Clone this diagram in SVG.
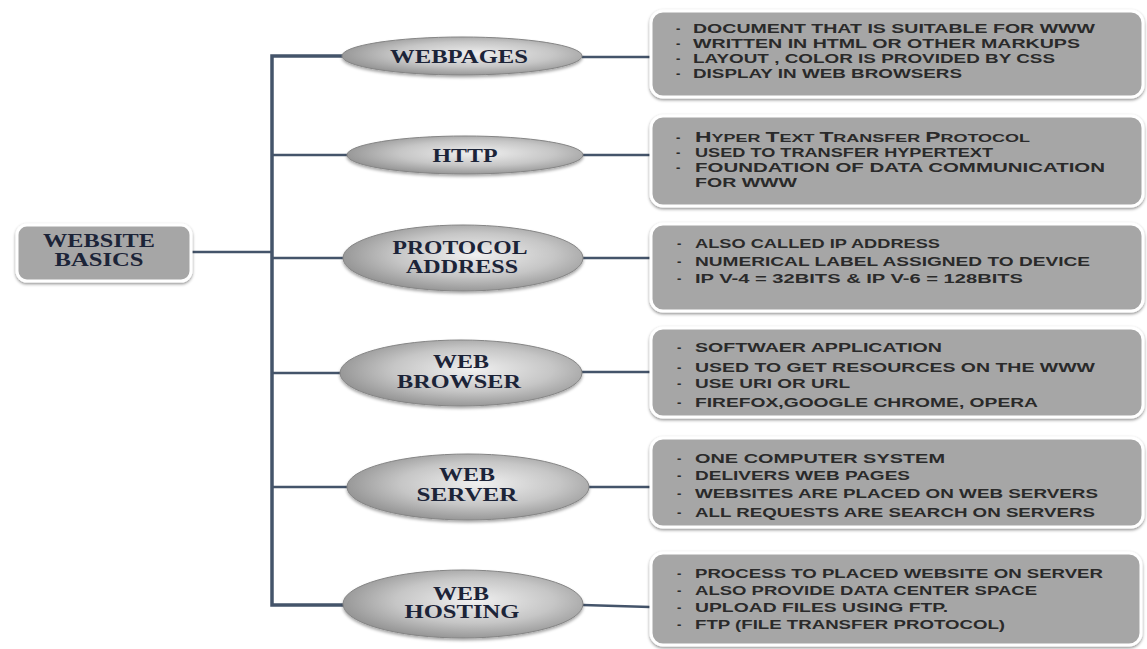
<svg xmlns="http://www.w3.org/2000/svg" width="1147" height="649" viewBox="0 0 1147 649">
<defs>
<radialGradient id="eg" cx="0.55" cy="0.45" r="0.6">
<stop offset="0" stop-color="#f0f0f0"/>
<stop offset="0.55" stop-color="#c6c6c6"/>
<stop offset="1" stop-color="#8e8e8e"/>
</radialGradient>
<filter id="sh" x="-10%" y="-20%" width="120%" height="150%">
<feDropShadow dx="0" dy="2" stdDeviation="1.5" flood-color="#000" flood-opacity="0.35"/>
</filter>
<filter id="bsh" x="-5%" y="-10%" width="110%" height="125%">
<feDropShadow dx="0" dy="1.5" stdDeviation="1.5" flood-color="#000" flood-opacity="0.45"/>
</filter>
</defs>
<style>
.conn{stroke:#44546a;stroke-width:2.5;fill:none}
.trunk{stroke:#44546a;stroke-width:3.5;fill:none}
.ell{fill:url(#eg);stroke:#858585;stroke-width:1;filter:url(#sh)}
.box{fill:#a6a6a6;stroke:#ffffff;stroke-width:3;filter:url(#bsh)}
.et{font-family:"Liberation Serif","Times New Roman",serif;font-size:18px;font-weight:bold;fill:#1c2438;text-anchor:middle}
.bt{font-family:"Liberation Sans",Arial,sans-serif;font-size:13px;font-weight:bold;fill:#2a2a2a}
</style>
<rect width="1147" height="649" fill="#ffffff"/>
<g id="connectors">
<polyline class="trunk" points="344,56 272,56 272,605 345,605"/>
<line class="conn" x1="192" y1="252" x2="272" y2="252"/>
<line class="conn" x1="272" y1="155" x2="348" y2="155"/>
<line class="conn" x1="272" y1="258" x2="344" y2="258"/>
<line class="conn" x1="272" y1="373" x2="341" y2="373"/>
<line class="conn" x1="272" y1="487" x2="348" y2="487"/>
<line class="conn" x1="582" y1="57" x2="650" y2="57"/>
<line class="conn" x1="583" y1="155" x2="650" y2="155"/>
<line class="conn" x1="583" y1="258" x2="650" y2="258"/>
<line class="conn" x1="582" y1="372" x2="650" y2="372"/>
<line class="conn" x1="589" y1="487" x2="650" y2="487"/>
<line class="conn" x1="583" y1="605" x2="650" y2="607"/>
</g>
<g id="website-basics">
<rect class="box" x="17" y="225" width="174" height="56" rx="10"/>
<text class="et" x="99" y="247" textLength="112" lengthAdjust="spacingAndGlyphs">WEBSITE</text>
<text class="et" x="99" y="266" textLength="89" lengthAdjust="spacingAndGlyphs">BASICS</text>
</g>
<g id="webpages">
<ellipse class="ell" cx="462" cy="56" rx="120" ry="19"/>
<text class="et" x="459" y="63" textLength="138" lengthAdjust="spacingAndGlyphs">WEBPAGES</text>
</g>
<g id="http">
<ellipse class="ell" cx="465" cy="155" rx="118" ry="19"/>
<text class="et" x="465" y="162" textLength="65" lengthAdjust="spacingAndGlyphs">HTTP</text>
</g>
<g id="protocol-address">
<ellipse class="ell" cx="463" cy="258" rx="120" ry="33"/>
<text class="et" x="460" y="254" textLength="135" lengthAdjust="spacingAndGlyphs">PROTOCOL</text>
<text class="et" x="462" y="273" textLength="112" lengthAdjust="spacingAndGlyphs">ADDRESS</text>
</g>
<g id="web-browser">
<ellipse class="ell" cx="461" cy="373" rx="121" ry="33"/>
<text class="et" x="461" y="368" textLength="56" lengthAdjust="spacingAndGlyphs">WEB</text>
<text class="et" x="459" y="388" textLength="124" lengthAdjust="spacingAndGlyphs">BROWSER</text>
</g>
<g id="web-server">
<ellipse class="ell" cx="468" cy="487" rx="121" ry="33"/>
<text class="et" x="467" y="481" textLength="56" lengthAdjust="spacingAndGlyphs">WEB</text>
<text class="et" x="467" y="501" textLength="101" lengthAdjust="spacingAndGlyphs">SERVER</text>
</g>
<g id="web-hosting">
<ellipse class="ell" cx="463" cy="604" rx="120" ry="34"/>
<text class="et" x="461" y="600" textLength="56" lengthAdjust="spacingAndGlyphs">WEB</text>
<text class="et" x="462" y="618" textLength="115" lengthAdjust="spacingAndGlyphs">HOSTING</text>
</g>
<g id="webpages-info">
<rect class="box" x="651" y="11" width="492" height="86" rx="12"/>
<text class="bt" x="676" y="33">-</text><text class="bt" x="693" y="33" textLength="402" lengthAdjust="spacingAndGlyphs">DOCUMENT THAT IS SUITABLE FOR WWW</text>
<text class="bt" x="676" y="48">-</text><text class="bt" x="693" y="48" textLength="387" lengthAdjust="spacingAndGlyphs">WRITTEN IN HTML OR OTHER MARKUPS</text>
<text class="bt" x="676" y="63">-</text><text class="bt" x="693" y="63" textLength="362" lengthAdjust="spacingAndGlyphs">LAYOUT , COLOR IS PROVIDED BY CSS</text>
<text class="bt" x="676" y="78">-</text><text class="bt" x="693" y="78" textLength="269" lengthAdjust="spacingAndGlyphs">DISPLAY IN WEB BROWSERS</text>
</g>
<g id="http-info">
<rect class="box" x="651" y="116" width="492" height="90" rx="12"/>
<text class="bt" x="676" y="142">-</text><text class="bt" x="695" y="142" textLength="335" lengthAdjust="spacingAndGlyphs"><tspan font-size="14">H</tspan><tspan font-size="11">YPER </tspan><tspan font-size="14">T</tspan><tspan font-size="11">EXT </tspan><tspan font-size="14">T</tspan><tspan font-size="11">RANSFER </tspan><tspan font-size="14">P</tspan><tspan font-size="11">ROTOCOL</tspan></text>
<text class="bt" x="676" y="157">-</text><text class="bt" x="695" y="157" textLength="298" lengthAdjust="spacingAndGlyphs">USED TO TRANSFER HYPERTEXT</text>
<text class="bt" x="676" y="172">-</text><text class="bt" x="695" y="172" textLength="410" lengthAdjust="spacingAndGlyphs">FOUNDATION OF DATA COMMUNICATION</text>
<text class="bt" x="695" y="187" textLength="102" lengthAdjust="spacingAndGlyphs">FOR WWW</text>
</g>
<g id="protocol-info">
<rect class="box" x="651" y="224" width="492" height="87" rx="12"/>
<text class="bt" x="677" y="248">-</text><text class="bt" x="695" y="248" textLength="245" lengthAdjust="spacingAndGlyphs">ALSO CALLED IP ADDRESS</text>
<text class="bt" x="677" y="266">-</text><text class="bt" x="695" y="266" textLength="395" lengthAdjust="spacingAndGlyphs">NUMERICAL  LABEL ASSIGNED TO DEVICE</text>
<text class="bt" x="677" y="283">-</text><text class="bt" x="695" y="283" textLength="328" lengthAdjust="spacingAndGlyphs">IP V-4 = 32BITS &amp; IP V-6 = 128BITS</text>
</g>
<g id="browser-info">
<rect class="box" x="651" y="328" width="492" height="89" rx="12"/>
<text class="bt" x="677" y="352">-</text><text class="bt" x="695" y="352" textLength="247" lengthAdjust="spacingAndGlyphs">SOFTWAER APPLICATION</text>
<text class="bt" x="677" y="372">-</text><text class="bt" x="695" y="372" textLength="400" lengthAdjust="spacingAndGlyphs">USED TO GET RESOURCES  ON THE WWW</text>
<text class="bt" x="677" y="388">-</text><text class="bt" x="695" y="388" textLength="155" lengthAdjust="spacingAndGlyphs">USE URI  OR URL</text>
<text class="bt" x="677" y="407">-</text><text class="bt" x="695" y="407" textLength="343" lengthAdjust="spacingAndGlyphs">FIREFOX,GOOGLE CHROME, OPERA</text>
</g>
<g id="server-info">
<rect class="box" x="651" y="438" width="492" height="89" rx="12"/>
<text class="bt" x="677" y="463">-</text><text class="bt" x="695" y="463" textLength="250" lengthAdjust="spacingAndGlyphs">ONE COMPUTER  SYSTEM</text>
<text class="bt" x="677" y="480">-</text><text class="bt" x="695" y="480" textLength="215" lengthAdjust="spacingAndGlyphs">DELIVERS WEB PAGES</text>
<text class="bt" x="677" y="498">-</text><text class="bt" x="695" y="498" textLength="403" lengthAdjust="spacingAndGlyphs">WEBSITES ARE PLACED ON WEB SERVERS</text>
<text class="bt" x="677" y="517">-</text><text class="bt" x="695" y="517" textLength="400" lengthAdjust="spacingAndGlyphs">ALL REQUESTS ARE SEARCH ON SERVERS</text>
</g>
<g id="hosting-info">
<rect class="box" x="651" y="553" width="490" height="92" rx="12"/>
<text class="bt" x="677" y="578">-</text><text class="bt" x="695" y="578" textLength="408" lengthAdjust="spacingAndGlyphs">PROCESS TO PLACED  WEBSITE ON SERVER</text>
<text class="bt" x="677" y="595">-</text><text class="bt" x="695" y="595" textLength="342" lengthAdjust="spacingAndGlyphs">ALSO PROVIDE DATA CENTER  SPACE</text>
<text class="bt" x="677" y="612">-</text><text class="bt" x="695" y="612" textLength="253" lengthAdjust="spacingAndGlyphs">UPLOAD FILES USING FTP.</text>
<text class="bt" x="677" y="629">-</text><text class="bt" x="695" y="629" textLength="310" lengthAdjust="spacingAndGlyphs">FTP (FILE TRANSFER PROTOCOL)</text>
</g>
</svg>
